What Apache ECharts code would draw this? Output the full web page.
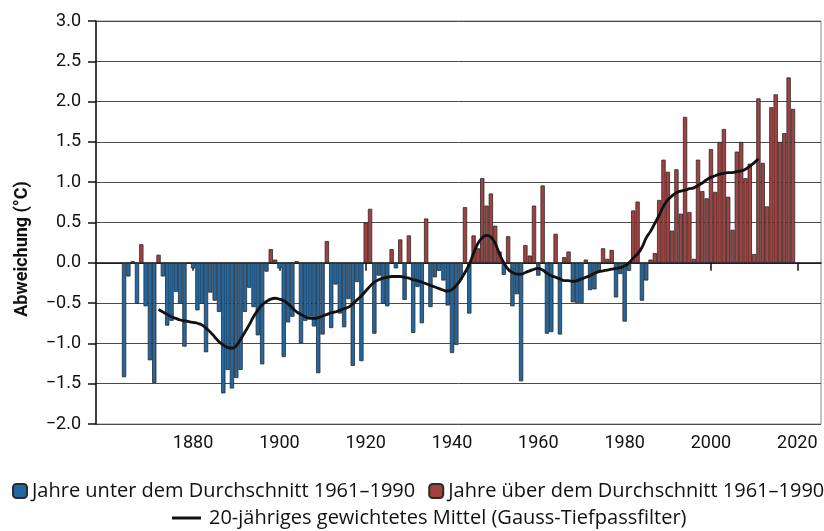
<!DOCTYPE html>
<html style="height: 100%">
<head>
<meta charset="utf-8">
<script src="https://cdn.jsdelivr.net/npm/echarts@6/dist/echarts.min.js"></script>
</head>
<body style="height: 100%; margin: 0; background: #fff">
<div id="container" style="width: 824px; height: 531px"></div>
<script type="text/javascript">
// Temperaturabweichung Schweiz, Referenz 1961-1990
var firstYear = 1864;
var anomalies = [
    -1.42, -0.17, 0.02, -0.51, 0.23, -0.54, -1.21, -1.49, 0.10, -0.17,   // 1864-1873
    -0.78, -0.72, -0.36, -0.51, -1.04, -0.01, -0.07, -0.59, -0.51, -1.11, // 1874-1883
    -0.37, -0.47, -0.61, -1.62, -1.33, -1.56, -1.43, -1.33, -0.61, -0.31, // 1884-1893
    -0.55, -0.90, -1.26, -0.11, 0.17, 0.04, -0.07, -1.17, -0.74, -0.67,   // 1894-1903
    0.02, -1.00, -0.72, -0.67, -0.79, -1.37, -0.89, 0.27, -0.81, -0.27,   // 1904-1913
    -0.63, -0.80, -0.45, -1.28, -0.24, -1.22, 0.50, 0.67, -0.88, -0.16,   // 1914-1923
    -0.51, -0.54, 0.17, -0.07, 0.29, -0.46, 0.34, -0.87, -0.30, -0.75,    // 1924-1933
    0.55, -0.55, -0.18, -0.10, -0.22, -0.53, -1.12, -1.02, -0.21, 0.69,   // 1934-1943
    -0.63, 0.34, 0.18, 1.05, 0.71, 0.86, 0.46, 0.14, -0.15, 0.33,         // 1944-1953
    -0.54, -0.39, -1.47, 0.22, 0.09, 0.71, -0.16, 0.96, -0.88, -0.86,     // 1954-1963
    0.36, -0.89, 0.07, 0.14, -0.49, -0.50, -0.50, 0.04, -0.34, -0.33,     // 1964-1973
    -0.12, 0.18, 0.05, 0.16, -0.43, -0.14, -0.73, -0.10, 0.65, 0.76,      // 1974-1983
    -0.47, -0.22, 0.04, 0.12, 0.78, 1.28, 1.13, 0.40, 1.16, 0.61,         // 1984-1993
    1.81, 0.63, 0.05, 1.28, 0.89, 0.80, 1.41, 0.88, 1.50, 1.66,           // 1994-2003
    0.82, 0.41, 1.38, 1.50, 1.05, 1.23, 0.11, 2.04, 1.24, 0.70,           // 2004-2013
    1.93, 2.09, 1.50, 1.61, 2.30, 1.91                                    // 2014-2019
];

// 20-jähriges gewichtetes Mittel
var smoothStart = 1872;
var smoothValues = [
    -0.58, -0.61, -0.64, -0.67, -0.69, -0.71, -0.72, -0.73,               // 1872-1879
    -0.74, -0.75, -0.77, -0.81, -0.86, -0.92, -0.98, -1.02, -1.05, -1.06, // 1880-1889
    -1.03, -0.95, -0.86, -0.77, -0.67, -0.59, -0.52, -0.48, -0.45, -0.44, // 1890-1899
    -0.45, -0.47, -0.51, -0.56, -0.61, -0.64, -0.67, -0.69, -0.69, -0.68, // 1900-1909
    -0.66, -0.64, -0.62, -0.61, -0.59, -0.57, -0.55, -0.51, -0.46, -0.41, // 1910-1919
    -0.35, -0.29, -0.24, -0.21, -0.19, -0.18, -0.17, -0.17, -0.17, -0.18, // 1920-1929
    -0.19, -0.21, -0.22, -0.24, -0.26, -0.28, -0.30, -0.32, -0.34, -0.35, // 1930-1939
    -0.33, -0.28, -0.21, -0.12, -0.02, 0.12, 0.24, 0.31, 0.34, 0.32,      // 1940-1949
    0.24, 0.11, 0.00, -0.08, -0.12, -0.14, -0.14, -0.12, -0.10, -0.08,    // 1950-1959
    -0.07, -0.09, -0.13, -0.16, -0.18, -0.20, -0.22, -0.22, -0.23, -0.22, // 1960-1969
    -0.20, -0.18, -0.16, -0.13, -0.11, -0.10, -0.09, -0.08, -0.07, -0.06, // 1970-1979
    -0.04, 0.00, 0.06, 0.11, 0.19, 0.31, 0.39, 0.49, 0.59, 0.70,          // 1980-1989
    0.78, 0.83, 0.87, 0.89, 0.90, 0.92, 0.93, 0.96, 0.99, 1.03,           // 1990-1999
    1.06, 1.08, 1.10, 1.11, 1.12, 1.12, 1.13, 1.14, 1.16, 1.20,           // 2000-2009
    1.24, 1.29                                                            // 2010-2011
];

var xTicks = [1880, 1900, 1920, 1940, 1960, 1980, 2000, 2020];

var nameBelow = 'Jahre unter dem Durchschnitt 1961–1990';
var nameAbove = 'Jahre über dem Durchschnitt 1961–1990';
var nameSmooth = '20-jähriges gewichtetes Mittel (Gauss-Tiefpassfilter)';
var yTitle = 'Abweichung (°C)';

var below = [], above = [], smooth = [];
for (var i = 0; i < anomalies.length; i++) {
    var y = firstYear + i;
    if (anomalies[i] < 0) below.push([y, anomalies[i]]);
    else above.push([y, anomalies[i]]);
}
for (var j = 0; j < smoothValues.length; j++) {
    smooth.push([smoothStart + j, smoothValues[j]]);
}

var font = 'Roboto';
var legendFont = 'Open Sans';
var dom = document.getElementById('container');
var myChart = echarts.init(dom);

var option = {
    animation: false,
    textStyle: { fontFamily: font },
    grid: {
        left: 96, right: 3, top: 21, bottom: 107,
        show: true, borderColor: '#8a8a8a', borderWidth: 1
    },
    // Achsentitel etwas unterhalb der Mitte, wie im Original
    graphic: [{
        type: 'text',
        x: 22, y: 249,
        rotation: Math.PI / 2,
        style: {
            text: yTitle,
            font: 'bold 18px Roboto',
            fill: '#111',
            align: 'center',
            verticalAlign: 'middle'
        }
    }],
    legend: [{
        top: 476, left: 7, width: 817,
        itemWidth: 14, itemHeight: 14, itemGap: 13,
        textStyle: { fontSize: 20, color: '#111', fontFamily: legendFont },
        data: [nameBelow, nameAbove]
    }, {
        top: 503, left: 167, width: 640,
        itemWidth: 29, itemHeight: 3,
        textStyle: { fontSize: 20, color: '#111', fontFamily: legendFont, padding: [0, 0, 0, 3] },
        data: [{ name: nameSmooth, icon: 'rect' }]
    }],
    xAxis: {
        type: 'value',
        min: 1857.5,
        max: 2025.5,
        axisLine: { lineStyle: { color: '#111', width: 1.5 } },
        axisTick: { customValues: xTicks, length: 8, lineStyle: { color: '#111', width: 1.5 } },
        axisLabel: {
            customValues: xTicks, margin: 10, fontSize: 18, color: '#111',
            formatter: function (v) { return String(v); }
        },
        splitLine: { show: false }
    },
    yAxis: {
        type: 'value',
        min: -2,
        max: 3,
        interval: 0.5,
        axisLine: { show: true, lineStyle: { color: '#111', width: 1.5 } },
        axisTick: { show: true, length: 8, lineStyle: { color: '#111', width: 1.5 } },
        axisLabel: {
            margin: 15, fontSize: 18, color: '#111',
            formatter: function (v) {
                return (v < 0 ? '\u2212' : '') + Math.abs(v).toFixed(1);
            }
        },
        splitLine: { lineStyle: { color: '#4a4a4a', width: 1 } }
    },
    series: [{
        name: nameBelow,
        type: 'bar',
        data: below,
        barWidth: 4.3,
        barGap: '-100%',
        itemStyle: { color: '#1f68a5', borderColor: '#2a2a2a', borderWidth: 0.8 }
    }, {
        name: nameAbove,
        type: 'bar',
        data: above,
        barWidth: 4.3,
        barGap: '-100%',
        itemStyle: { color: '#a4403f', borderColor: '#2a2a2a', borderWidth: 0.8 }
    }, {
        name: nameSmooth,
        type: 'line',
        data: smooth,
        smooth: true,
        showSymbol: false,
        symbol: 'none',
        lineStyle: { color: '#111', width: 2.8 },
        itemStyle: { color: '#111' }
    }]
};

if (option && typeof option === "object") {
    myChart.setOption(option, true);
}
</script>
</body>
</html>
